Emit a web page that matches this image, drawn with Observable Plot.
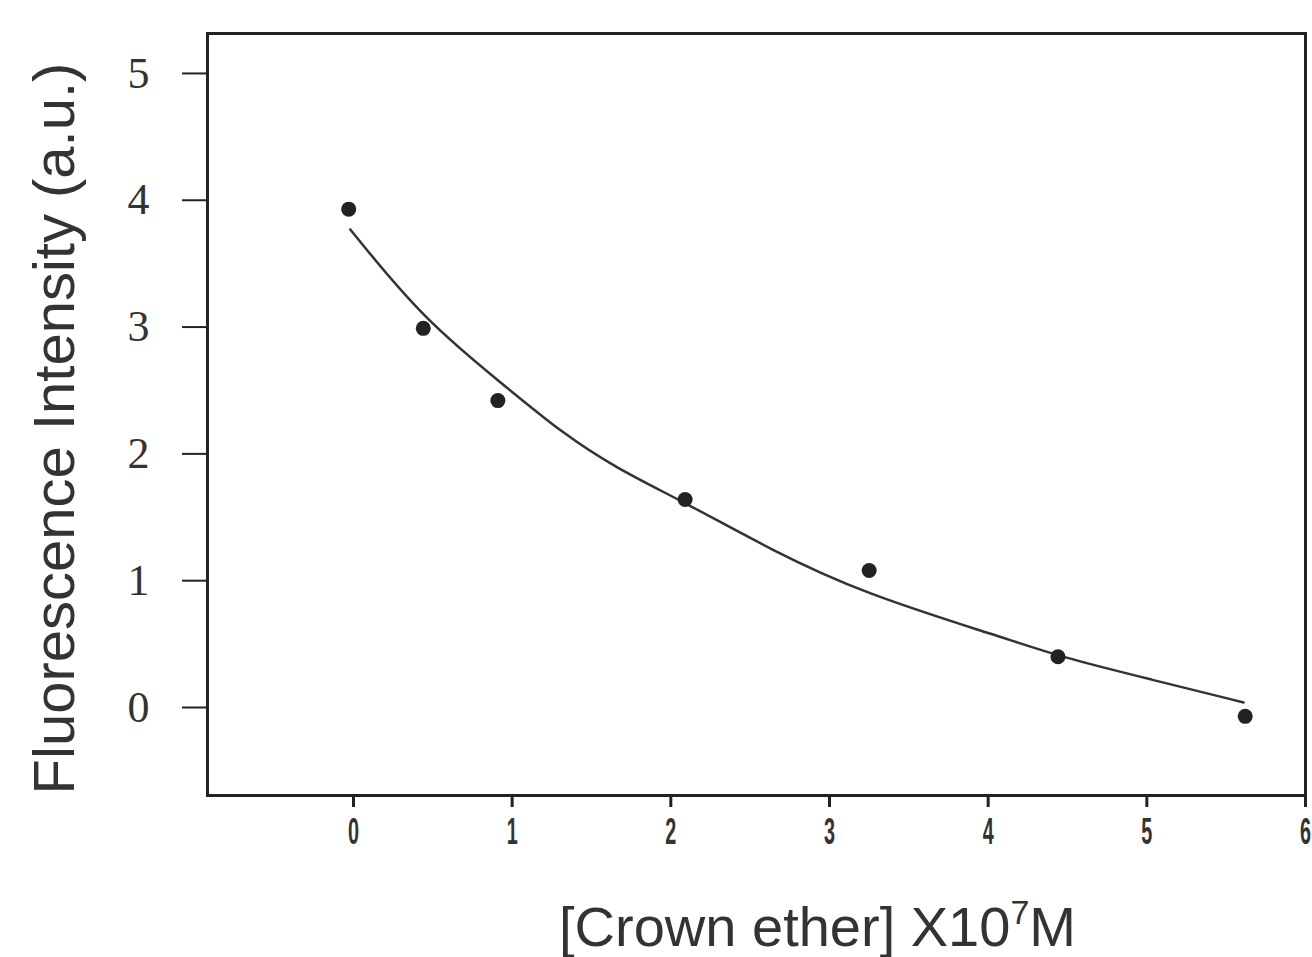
<!DOCTYPE html>
<html>
<head>
<meta charset="utf-8">
<script src="https://cdn.jsdelivr.net/npm/d3@7"></script>
<script src="https://cdn.jsdelivr.net/npm/@observablehq/plot@0.6"></script>
<style>
  html, body { margin: 0; padding: 0; background: #fff; }
  #chart svg { display: block; }
</style>
</head>
<body>
<div id="chart"></div>
<script>
// Measured data points: crown ether concentration (x 1e-7 M) vs fluorescence intensity (a.u.)
const pointX = [-0.03, 0.44, 0.91, 2.09, 3.25, 4.44, 5.62];
const pointY = [3.93, 2.99, 2.42, 1.64, 1.08, 0.40, -0.07];

// Fitted curve
const curveX = [-0.02, 0.44, 0.97, 1.31, 1.65, 2.10, 2.62, 3.21, 4.10, 4.45, 5.03, 5.61];
const curveY = [3.77, 3.06, 2.52, 2.17, 1.89, 1.61, 1.25, 0.90, 0.55, 0.40, 0.22, 0.04];

const xTicks = [0, 1, 2, 3, 4, 5, 6];
const yTicks = [0, 1, 2, 3, 4, 5];
const xTitle = "[Crown ether] X10^7M";
const yTitle = "Fluorescence Intensity (a.u.)";

const points = pointX.map((x, i) => ({x, y: pointY[i]}));
const curve = curveX.map((x, i) => ({x, y: curveY[i]}));

const ink = "#222";

const chart = Plot.plot({
  width: 1312,
  height: 957,
  marginLeft: 207,
  marginRight: 7,
  marginTop: 33,
  marginBottom: 162,
  style: {background: "#fff", color: ink, overflow: "visible"},
  x: {domain: [-0.92, 6], ticks: xTicks, label: null},
  y: {domain: [-0.694, 5.315], ticks: yTicks, label: null},
  marks: [
    Plot.axisY({
      ticks: yTicks, tickFormat: d3.format("d"), tickSize: 25, tickPadding: 33, strokeWidth: 2,
      fontSize: 44, fontFamily: "Liberation Serif, serif", fill: "#333", label: null
    }),
    Plot.axisX({
      ticks: xTicks, tickFormat: d3.format("d"), tickSize: 12, tickPadding: 11, strokeWidth: 3,
      fontSize: 36, fontWeight: "bold", fontFamily: "Liberation Sans, Arial, sans-serif",
      fill: "#333", label: null
    }),
    Plot.frame({stroke: ink, strokeWidth: 3}),
    Plot.line(curve, {x: "x", y: "y", curve: "basis", stroke: "#333", strokeWidth: 2.5}),
    Plot.dot(points, {x: "x", y: "y", r: 7.5, fill: ink, stroke: "none"}),
    Plot.text([yTitle], {
      frameAnchor: "left", rotate: -90, dx: -152, dy: 14,
      fontSize: 58, fontFamily: "Liberation Sans, Arial, sans-serif", fill: "#333",
      textAnchor: "middle", lineAnchor: "middle"
    }),
    Plot.text([xTitle], {
      frameAnchor: "bottom", dx: 61, dy: 133,
      fontSize: 56, fontFamily: "Liberation Sans, Arial, sans-serif", fill: "#333",
      textAnchor: "middle", lineAnchor: "middle"
    })
  ]
});

// Narrow the bold x tick labels, like the condensed face of the original
d3.select(chart).selectAll('g[aria-label="x-axis tick label"] text').each(function() {
  const t = d3.select(this);
  const tr = t.attr("transform") || "";
  t.attr("transform", tr + " scale(0.55,1)");
});

// Render the superscript exponent in the x title
d3.select(chart).selectAll("text").each(function() {
  const t = d3.select(this);
  if (t.text() === xTitle) {
    const [base, rest] = xTitle.split("^");
    t.text(null);
    t.append("tspan").text(base);
    t.append("tspan").attr("font-size", 34).attr("dy", -22).text(rest[0]);
    t.append("tspan").attr("dy", 22).text(rest.slice(1));
  }
});

document.getElementById("chart").append(chart);
</script>
</body>
</html>
